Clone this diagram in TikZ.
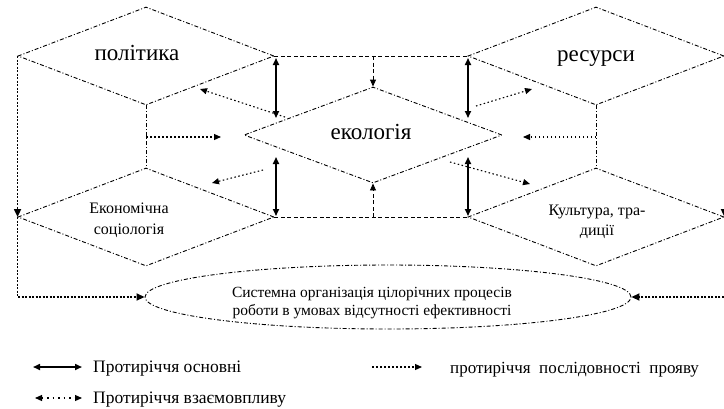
\documentclass[tikz,border=0pt]{standalone}
\usepackage{fontspec}
\setmainfont{Liberation Serif}
\usetikzlibrary{shapes.geometric,arrows.meta}
\begin{document}
\begin{tikzpicture}[x=1pt,y=-1pt,
  dashdot/.style={line width=0.9pt,dash pattern=on 4pt off 2pt on 1pt off 2pt},
  dia/.style={draw,shape=diamond,minimum width=256pt,minimum height=98pt,inner sep=0pt,aspect=2.6,dashdot},
  cline/.style={line width=0.9pt,dash pattern=on 4pt off 2.5pt},
  tip/.style={-{Triangle[length=7pt,width=6pt]}},
  seq/.style={line width=1.1pt,dash pattern=on 1.5pt off 2.5pt,tip},
  outer/.style={line width=1.8pt,dash pattern=on 2pt off 1.5pt,-{Triangle[length=8pt,width=7pt]}},
  solidarr/.style={line width=1.6pt,{Triangle[length=7pt,width=6pt]}-{Triangle[length=7pt,width=6pt]}},
  mutual/.style={line width=1.1pt,dash pattern=on 1.5pt off 4pt,{Triangle[length=7pt,width=6pt]}-{Triangle[length=7pt,width=6pt]}},
  big/.style={font=\fontsize{23}{26}\selectfont,anchor=base,inner sep=0pt},
  mid/.style={font=\fontsize{16}{21}\selectfont,align=center,anchor=base,inner sep=0pt},
  leg/.style={font=\fontsize{17.5}{20}\selectfont,anchor=base west,inner sep=0pt}
]
\useasboundingbox (0,0) rectangle (724,408);
% diamonds
\node[dia] (pol) at (146,56) {};
\node[dia] (res) at (596,56) {};
\node[dia,minimum width=258pt,minimum height=96pt] (eco) at (373,135) {};
\node[dia] (ekon) at (146,217) {};
\node[dia] (kult) at (596,217) {};
% labels
\node[big] (polt) at (137,60) {політика};
\node[big] (rest) at (596,61) {ресурси};
\node[big] (ecot) at (371,139) {екологія};
\node[mid] (ekont) at (129,234) {Економічна\\соціологія};
\node[mid,font=\fontsize{16}{20}\selectfont] (kultt) at (597,235) {Культура, тра-\\диції};
% ellipse
\node[draw,ellipse,dashdot,minimum width=486pt,minimum height=64pt,inner sep=0pt] (ell) at (388,297) {};
\node[font=\fontsize{15.5}{18}\selectfont,align=center,anchor=base,inner sep=0pt] (ellt) at (372,315)
      {Системна організація цілорічних процесів\\роботи в умовах відсутності ефективності};
% coordinates
\coordinate (tm) at (373,56);
\coordinate (bm) at (373,217);
\coordinate (s1a) at (276,58);  \coordinate (s1b) at (276,118);
\coordinate (s2a) at (468,58);  \coordinate (s2b) at (468,118);
\coordinate (s3a) at (276,157); \coordinate (s3b) at (276,216);
\coordinate (s4a) at (468,157); \coordinate (s4b) at (468,216);
\coordinate (d1a) at (285,117); \coordinate (d1b) at (200,89);
\coordinate (d2a) at (476,106); \coordinate (d2b) at (532,89);
\coordinate (d3a) at (263,170); \coordinate (d3b) at (212,183);
\coordinate (d4a) at (450,162); \coordinate (d4b) at (530,184);
\coordinate (h1a) at (146,137); \coordinate (h1b) at (221,137);
\coordinate (h2a) at (596,137); \coordinate (h2b) at (523,137);
% connectors between diamonds
\draw[cline] (pol.east) -- (res.west);
\draw[cline] (ekon.east) -- (kult.west);
\draw[cline,tip] (tm) -- (eco.north);
\draw[cline,tip] (bm) -- (eco.south);
\draw[dashdot] (pol.south) -- (ekon.north);
\draw[dashdot] (res.south) -- (kult.north);
% solid arrows
\draw[solidarr] (s1a) -- (s1b);
\draw[solidarr] (s2a) -- (s2b);
\draw[solidarr] (s3a) -- (s3b);
\draw[solidarr] (s4a) -- (s4b);
% dotted sequence arrows
\draw[seq] (d1a) -- (d1b);
\draw[seq] (d2a) -- (d2b);
\draw[seq] (d3a) -- (d3b);
\draw[seq] (d4a) -- (d4b);
\draw[seq] (h1a) -- (h1b);
\draw[seq] (h2a) -- (h2b);
% outer lines
\draw[outer] (pol.west) -- (ekon.west);
\draw[outer] (ekon.west) |- (ell.west);
\draw[outer] (res.east) -- (kult.east);
\draw[outer] (kult.east) |- (ell.east);
% legend
\coordinate (l1a) at (33,367); \coordinate (l1b) at (82,367);
\coordinate (l2a) at (35,398); \coordinate (l2b) at (82,398);
\coordinate (l3a) at (372,367); \coordinate (l3b) at (422,367);
\draw[solidarr] (l1a) -- (l1b);
\draw[mutual] (l2a) -- (l2b);
\draw[seq] (l3a) -- (l3b);
\node[leg] (t1) at (93,372) {Протиріччя основні};
\node[leg] (t2) at (93,403) {Протиріччя взаємовпливу};
\node[leg,font=\fontsize{17}{20}\selectfont] (t3) at (450,373) {протиріччя\ \ послідовності\ \ прояву};
\end{tikzpicture}
\end{document}
